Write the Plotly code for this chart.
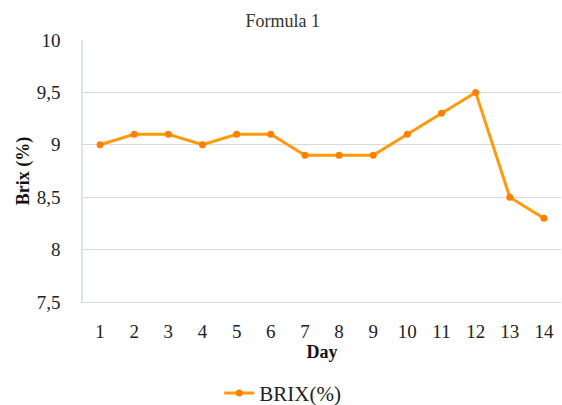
import plotly.graph_objects as go

days = [str(d) for d in range(1, 15)]
brix = [9.0, 9.1, 9.1, 9.0, 9.1, 9.1, 8.9, 8.9, 8.9, 9.1, 9.3, 9.5, 8.5, 8.3]
y_ticks = [7.5, 8, 8.5, 9, 9.5, 10]
y_tick_labels = ["7,5", "8", "8,5", "9", "9,5", "10"]

serif = "Liberation Serif"

fig = go.Figure()
fig.add_trace(go.Scatter(
    x=days, y=brix, mode="lines+markers", name="BRIX(%)",
    line=dict(color="#FF9A0A", width=3),
    marker=dict(color="#FF7F00", size=7),
))

fig.update_layout(
    width=562, height=405,
    margin=dict(l=83, r=1, t=40, b=103, autoexpand=False),
    paper_bgcolor="white", plot_bgcolor="white",
    font=dict(family=serif, color="#222222", size=19),
    title=dict(text="Formula 1", x=0.503, xanchor="center", y=0.95, yanchor="middle",
               font=dict(family=serif, size=18, color="#333333")),
    showlegend=True,
    legend=dict(orientation="h", x=0.285, xanchor="left", y=-0.27, yanchor="top",
                font=dict(family=serif, size=21, color="#222222"),
                itemwidth=30),
    xaxis=dict(
        type="category", range=[-0.5, 13.5], showgrid=False, zeroline=False,
        showline=True, linecolor="#d9d9d9", linewidth=1,
        ticks="", ticklabelstandoff=12,
        title=dict(text="<b>Day</b>", font=dict(family=serif, size=18, color="#111111"), standoff=3),
    ),
    yaxis=dict(
        range=[7.5, 10], tickvals=y_ticks, ticktext=y_tick_labels,
        showgrid=True, gridcolor="#d9d9d9", gridwidth=1, zeroline=False,
        showline=True, linecolor="#d6e4f3", linewidth=1.5,
        ticks="", ticklabelstandoff=17,
        title=dict(text="<b>Brix (%)</b>", font=dict(family=serif, size=18, color="#111111"), standoff=2),
    ),
)

fig.write_html("out.html")
